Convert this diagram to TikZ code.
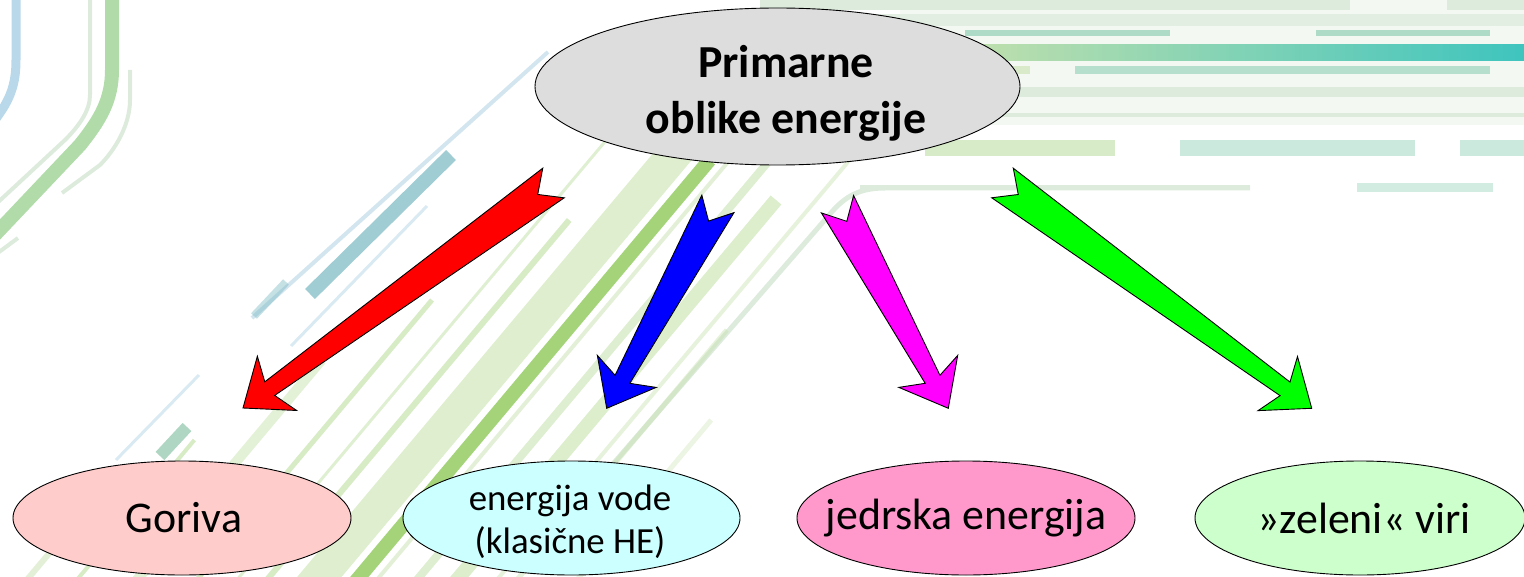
\documentclass[tikz,border=0pt]{standalone}
\usepackage{fontspec}
\setmainfont{Carlito}
\usetikzlibrary{calc,shapes.geometric}
\definecolor{topgray}{HTML}{DDDDDD}
\definecolor{gorfill}{HTML}{FFCCCC}
\definecolor{vodfill}{HTML}{CCFFFF}
\definecolor{jedfill}{HTML}{FF99CC}
\definecolor{zelfill}{HTML}{CCFFCC}
\definecolor{arred}{HTML}{FF0000}
\definecolor{arblue}{HTML}{0000FF}
\definecolor{armag}{HTML}{FF00FF}
\definecolor{argreen}{HTML}{00FF00}
\definecolor{bgA}{HTML}{C5E0A5}
\definecolor{bgB}{HTML}{7DC142}
\definecolor{bgC}{HTML}{B0D88C}
\definecolor{bgD}{HTML}{C8E2B0}
\definecolor{bgE}{HTML}{A8D480}
\definecolor{bgT}{HTML}{7FBCC4}
\definecolor{bgL}{HTML}{B5D5E5}
\definecolor{bgG}{HTML}{8DC4A8}
\definecolor{bgH}{HTML}{8FCFB5}
\definecolor{bgTeal}{HTML}{2BBFB9}
\definecolor{bgPale}{HTML}{DDEBDD}
\definecolor{bgCurveG}{HTML}{A8D8A0}
\definecolor{bgCurveB}{HTML}{A8D0E6}
\tikzset{
  bgline/.style={line cap=butt},
  ovalnode/.style={ellipse, draw=black, line width=0.9bp, inner sep=0pt},
  topoval/.style={ovalnode, fill=topgray, minimum width=485bp, minimum height=157bp},
  botoval/.style={ovalnode, minimum width=338bp, minimum height=114bp},
  lbl/.style={inner sep=0pt, align=center, text=black},
  toplbl/.style={lbl, font=\fontsize{46}{56}\selectfont\bfseries},
  botlbl/.style={lbl, font=\fontsize{44}{53}\selectfont},
  fatarrowstyle/.style={draw=black, line width=0.9bp, line join=miter}
}
\newcommand{\fatarrow}[3]{%
  \coordinate (fa-n) at ($(#2)!33bp!(#1)$);
  \coordinate (fa-w) at ($(#2)!42bp!(#1)$);
  \filldraw[fatarrowstyle, fill=#3]
    ($(#1)!18.3bp!90:(#2)$) -- ($(#1)!19.5bp!(#2)$) -- ($(#1)!18.3bp!-90:(#2)$)
    -- ($(fa-n)!8.4bp!-90:(#2)$) -- ($(fa-w)!33.5bp!-90:(#2)$) -- (#2)
    -- ($(fa-w)!33.5bp!90:(#2)$) -- ($(fa-n)!8.4bp!90:(#2)$) -- cycle;
}
\begin{document}
\begin{tikzpicture}[x=1bp,y=-1bp]
\useasboundingbox (0,0) rectangle (1524,577);
\begin{scope}
\clip (0,0) rectangle (1524,577);
% ---------- background: top-right horizontal bands ----------
\fill[bgPale, opacity=0.35] (900,0) rectangle (1524,125);
\draw[bgline, bgPale, line width=10bp] (760,5) -- (1350,5) (1447,5) -- (1524,5);
\draw[bgline, bgPale, line width=12bp, opacity=0.8] (820,20) -- (1524,20);
\draw[bgline, bgH, line width=6bp, opacity=0.7] (965,33) -- (1170,33) (1316,33) -- (1490,33);
\shade[left color=bgA, right color=bgTeal, opacity=0.9] (930,45) rectangle (1524,61);
\draw[bgline, bgH, line width=8bp, opacity=0.6] (1075,70) -- (1490,70);
\draw[bgline, bgD, line width=8bp, opacity=0.6] (940,70) -- (1030,70);
\draw[bgline, bgPale, line width=10bp] (1000,92) -- (1524,92);
\draw[bgline, bgPale, line width=4bp] (940,115) -- (1524,115);
\draw[bgline, bgD, line width=16bp, opacity=0.7] (925,148) -- (1115,148);
\draw[bgline, bgH, line width=16bp, opacity=0.45] (1180,148) -- (1415,148) (1460,148) -- (1524,148);
\draw[bgline, bgPale, line width=5bp] (860,188) -- (1250,188);
\draw[bgline, bgH, line width=9bp, opacity=0.4] (1357,188) -- (1493,188);
\draw[bgPale, line width=5bp] (1250,188) -- (885,188) .. controls (860,188) and (845,196) .. (830,214) -- (560,525);
% ---------- background: top-left curves ----------
\draw[bgCurveB, line width=9bp, opacity=0.8] (16,-5) -- (16,60) .. controls (16,85) and (10,100) .. (-5,120);
\draw[bgCurveG, line width=14bp, opacity=0.9] (112,-5) -- (112,70) .. controls (112,100) and (100,120) .. (80,145) -- (-10,240);
\draw[bgPale, line width=4bp] (90,-5) -- (90,95) .. controls (90,110) and (80,125) .. (65,140) -- (-5,205);
\draw[bgPale, line width=4bp] (130,70) -- (130,100) .. controls (130,125) and (115,150) .. (100,165) -- (62,193);
\draw[bgPale, line width=4bp] (18,238) -- (-5,255);
% ---------- background: diagonal stripes ----------
\foreach \xa/\ya/\yb/\w/\c/\o in {
   300/600/100/34/bgA/0.55,
   250/600/220/6/bgC/0.5,
   440/600/200/14/bgE/0.4,
   400/600/60/8/bgD/0.6,
   180/600/300/5/bgC/0.5,
   500/600/330/5/bgD/0.45,
   120/600/360/10/bgC/0.35,
   480/600/160/4/bgD/0.45,
   60/600/440/4/bgC/0.5,
   560/600/420/5/bgD/0.35,
   10/600/470/6/bgD/0.5,
   220/600/120/3/bgC/0.4,
   360/600/40/4/bgD/0.5,
   340/600/160/14/bgB/0.7}
  \draw[bgline, line width=\w bp, color=\c, opacity=\o] (\xa,\ya) -- ({\xa+0.84*(\ya-\yb)},\yb);
\draw[bgline, bgL, line width=4bp, opacity=0.6] (548,52) -- (252,318);
\draw[bgline, bgL, line width=3bp, opacity=0.5] (427,206) -- (291,346);
\draw[bgline, bgT, line width=14bp, opacity=0.75] (310,294) -- (451,155);
\draw[bgline, bgT, line width=8bp, opacity=0.45] (286,282) -- (254,316);
\draw[bgline, bgG, line width=12bp, opacity=0.7] (187,427) -- (160,456);
\draw[bgline, bgL, line width=3bp, opacity=0.5] (199,375) -- (116,460);
\end{scope}
% ---------- nodes ----------
\node[topoval] (top) at (777.5,86.5) {};
\node[toplbl] (top-t) at (786,93) {Primarne\\oblike energije};
\node[botoval, fill=gorfill] (gor) at (182,518) {};
\node[botlbl] (gor-t) at (184,518) {Goriva};
\node[botoval, fill=vodfill, minimum width=337bp] (vod) at (571.5,518) {};
\node[botlbl, font=\fontsize{37}{43}\selectfont] (vod-t) at (570,522) {energija vode\\(klasične HE)};
\node[botoval, fill=jedfill] (jed) at (966,518) {};
\node[botlbl] (jed-t) at (jed) {jedrska energija};
\node[botoval, fill=zelfill, minimum width=330bp] (zel) at (1360,518) {};
\node[botlbl] (zel-t) at (1364,518) {»zeleni« viri};
% ---------- arrows ----------
\coordinate (r-tail) at (553.5,183);   \coordinate (r-tip) at (243,408);
\coordinate (b-tail) at (717.9,203.9); \coordinate (b-tip) at (606.7,408.3);
\coordinate (m-tail) at (837.5,204.2); \coordinate (m-tip) at (948.3,408.3);
\coordinate (g-tail) at (1002.5,183);  \coordinate (g-tip) at (1311.7,408.3);
\fatarrow{r-tail}{r-tip}{arred}
\fatarrow{b-tail}{b-tip}{arblue}
\fatarrow{m-tail}{m-tip}{armag}
\fatarrow{g-tail}{g-tip}{argreen}
\end{tikzpicture}
\end{document}
